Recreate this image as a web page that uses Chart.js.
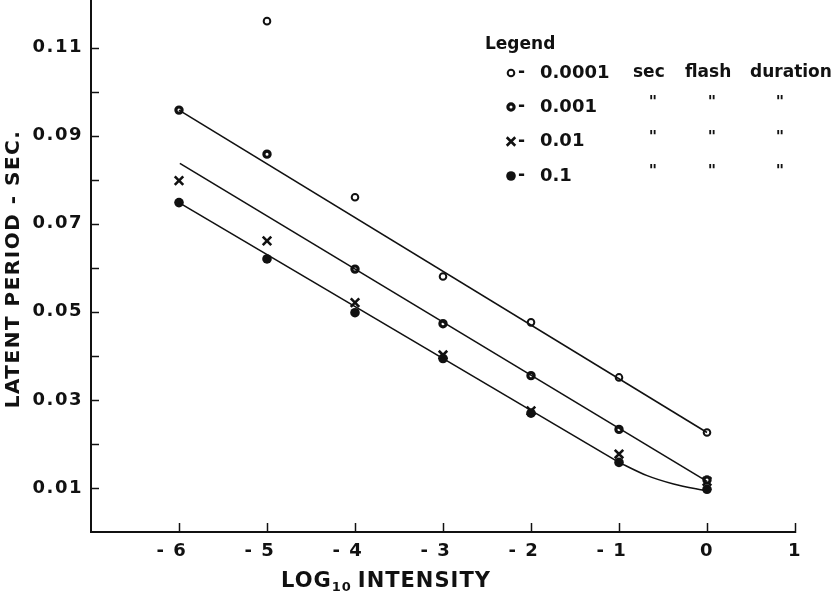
<!DOCTYPE html>
<html>
<head>
<meta charset="utf-8">
<script src="https://cdn.jsdelivr.net/npm/chart.js@4/dist/chart.umd.min.js"></script>
<style>
  html, body { margin: 0; padding: 0; background: #fff; }
  #wrap { width: 836px; height: 594px; }
</style>
</head>
<body>
<div id="wrap"><canvas id="latentChart" width="836" height="594"></canvas></div>
<script>
// log10 intensity
var intensity = [-6, -5, -4, -3, -2, -1, 0];

// latent period (sec) per flash duration
var flash00001 = [null, 0.116, 0.076, 0.058, 0.0476, 0.0351, 0.0226];
var flash0001 = [0.0958, 0.0858, 0.0597, 0.0473, 0.0355, 0.0233, 0.0118];
var flash001 = [0.0798, 0.0661, 0.0521, 0.0402, 0.0275, 0.0177, 0.0115];
var flash01 = [0.0748, 0.0620, 0.0498, 0.0394, 0.0270, 0.0158, 0.0097];

// the hand drawn lines
var upperFitX = [-6, 0];
var upperFitY = [0.0958, 0.0226];
var middleFitX = [-5.99, 0];
var middleFitY = [0.0837, 0.0115];
var lowerFitX = [-6, -1];
var lowerFitY = [0.0748, 0.0158];
var lowerBendX = [-1, -0.68, -0.38, 0];
var lowerBendY = [0.0158, 0.0128, 0.0109, 0.0093];

// tick labels
var xTickValues = [-6, -5, -4, -3, -2, -1, 0, 1];
var xTickLabels = ['- 6\u2007', '- 5\u2007', '- 4\u2007', '- 3\u2007', '- 2\u2007', '- 1\u2007', '0', '1'];
var yTickValues = [0.01, 0.03, 0.05, 0.07, 0.09, 0.11];
var yTickLabels = ['0.01', '0.03', '0.05', '0.07', '0.09', '0.11'];

var legendLabels = ['0.0001', '0.001', '0.01', '0.1'];

var ink = '#111';
var boldFont = '"DejaVu Sans", sans-serif';

function toPoints(xs, ys) {
    var out = [];
    for (var i = 0; i < xs.length; i++) {
        if (ys[i] !== null) out.push({ x: xs[i], y: ys[i] });
    }
    return out;
}

function findLabel(values, labels, v) {
    for (var i = 0; i < values.length; i++) {
        if (Math.abs(values[i] - v) < 1e-6) return labels[i];
    }
    return '';
}

function fitLine(label, xs, ys, tension) {
    return {
        label: label,
        data: toPoints(xs, ys),
        showLine: true,
        borderColor: ink,
        borderWidth: 1.6,
        pointRadius: 0,
        tension: tension || 0,
        cubicInterpolationMode: tension ? 'monotone' : 'default',
        fill: false
    };
}

// ticks that point into the plot, titles and the hand lettered legend
var paperPlugin = {
    id: 'paper',
    beforeDraw: function (chart) {
        // wide lettering like the original
        chart.ctx.letterSpacing = '1.5px';
    },
    afterDraw: function (chart) {
        var ctx = chart.ctx;
        var xs = chart.scales.x, ys = chart.scales.y;
        var area = chart.chartArea;
        ctx.save();
        ctx.letterSpacing = '0px';
        ctx.strokeStyle = ink;
        ctx.fillStyle = ink;
        ctx.lineWidth = 1.5;

        ys.ticks.forEach(function (t) {
            if (t.value < 0.005 || t.value > 0.115) return;
            var py = Math.round(ys.getPixelForValue(t.value)) + 0.5;
            ctx.beginPath();
            ctx.moveTo(area.left, py);
            ctx.lineTo(area.left + 8, py);
            ctx.stroke();
        });
        xs.ticks.forEach(function (t) {
            if (t.value < -6.5) return;
            var px = Math.round(xs.getPixelForValue(t.value)) + 0.5;
            ctx.beginPath();
            ctx.moveTo(px, area.bottom + 1);
            ctx.lineTo(px, area.bottom - 9);
            ctx.stroke();
        });

        // y title
        ctx.save();
        ctx.translate(14, 269);
        ctx.rotate(-Math.PI / 2);
        ctx.font = 'bold 20px ' + boldFont;
        ctx.letterSpacing = '1.5px';
        ctx.textAlign = 'center';
        ctx.textBaseline = 'middle';
        ctx.fillText('LATENT PERIOD - SEC.', 0, 0);
        ctx.restore();

        // x title with subscript
        ctx.textAlign = 'left';
        ctx.textBaseline = 'alphabetic';
        ctx.letterSpacing = '1px';
        ctx.font = 'bold 21px ' + boldFont;
        var tx = 281;
        ctx.fillText('LOG', tx, 587);
        tx += ctx.measureText('LOG').width;
        ctx.font = 'bold 13px ' + boldFont;
        ctx.fillText('10', tx, 591);
        tx += ctx.measureText('10').width + 6;
        ctx.font = 'bold 21px ' + boldFont;
        ctx.fillText('INTENSITY', tx, 587);
        ctx.letterSpacing = '0px';

        // legend
        ctx.font = 'bold 17px ' + boldFont;
        ctx.fillText('Legend', 485, 49);
        var rowY = [73, 107, 141.5, 176];
        var markerSets = chart.data.datasets.slice(4);
        for (var i = 0; i < legendLabels.length; i++) {
            var ds = markerSets[i];
            var opts = {
                pointStyle: ds.pointStyle,
                radius: ds.pointRadius,
                borderWidth: ds.pointBorderWidth,
                rotation: 0
            };
            ctx.save();
            ctx.fillStyle = ds.pointBackgroundColor;
            ctx.strokeStyle = ds.pointBorderColor;
            ctx.lineWidth = ds.pointBorderWidth;
            if (Chart.helpers && Chart.helpers.drawPoint) {
                Chart.helpers.drawPoint(ctx, opts, 511, rowY[i]);
            }
            ctx.restore();
            ctx.textBaseline = 'middle';
            ctx.font = 'bold 17px ' + boldFont;
            ctx.fillText('-', 518, rowY[i]);
            ctx.font = 'bold 18px ' + boldFont;
            ctx.fillText(legendLabels[i], 540, rowY[i]);
            if (i === 0) {
                ctx.font = 'bold 17px ' + boldFont;
                ctx.fillText('sec', 633, rowY[i]);
                ctx.fillText('flash', 685, rowY[i]);
                ctx.fillText('duration', 750, rowY[i]);
            } else {
                ctx.font = 'bold 16px ' + boldFont;
                ctx.textAlign = 'center';
                [653, 712, 780].forEach(function (dx) {
                    ctx.fillText('"', dx, rowY[i] - 4);
                });
                ctx.textAlign = 'left';
            }
        }
        ctx.restore();
    }
};

var ctxLatent = document.getElementById('latentChart').getContext('2d');
var latentChart = new Chart(ctxLatent, {
    type: 'scatter',
    data: {
        datasets: [
            fitLine('fit 0.0001', upperFitX, upperFitY),
            fitLine('fit 0.001', middleFitX, middleFitY),
            fitLine('fit 0.1', lowerFitX, lowerFitY),
            fitLine('fit 0.1 bend', lowerBendX, lowerBendY, 0.4),
            {
                label: legendLabels[0],
                data: toPoints(intensity, flash00001),
                pointStyle: 'circle',
                pointRadius: 3.3,
                pointBorderWidth: 2,
                pointBackgroundColor: '#fff',
                pointBorderColor: ink
            },
            {
                label: legendLabels[1],
                data: toPoints(intensity, flash0001),
                pointStyle: 'circle',
                pointRadius: 3.1,
                pointBorderWidth: 3.2,
                pointBackgroundColor: '#fff',
                pointBorderColor: ink
            },
            {
                label: legendLabels[2],
                data: toPoints(intensity, flash001),
                pointStyle: 'crossRot',
                pointRadius: 6,
                pointBorderWidth: 2.6,
                pointBackgroundColor: ink,
                pointBorderColor: ink
            },
            {
                label: legendLabels[3],
                data: toPoints(intensity, flash01),
                pointStyle: 'circle',
                pointRadius: 4.8,
                pointBorderWidth: 0,
                pointBackgroundColor: ink,
                pointBorderColor: ink
            }
        ]
    },
    options: {
        responsive: false,
        animation: false,
        layout: { autoPadding: false, padding: { top: 0, right: 41, bottom: 0, left: 0 } },
        plugins: {
            legend: { display: false },
            tooltip: { enabled: false }
        },
        scales: {
            x: {
                type: 'linear',
                min: -7,
                max: 1,
                grid: { display: false, drawTicks: false },
                border: { display: true, color: ink, width: 2 },
                ticks: {
                    stepSize: 1,
                    padding: 9,
                    color: ink,
                    maxRotation: 0,
                    autoSkip: false,
                    font: { family: boldFont, weight: 'bold', size: 18 },
                    callback: function (v) { return findLabel(xTickValues, xTickLabels, v); }
                },
                afterFit: function (s) {
                    s.height = 62;
                    s.paddingLeft = 0;
                    s.paddingRight = 0;
                }
            },
            y: {
                type: 'linear',
                min: 0,
                max: 0.1208,
                grid: { display: false, drawTicks: false },
                border: { display: true, color: ink, width: 2 },
                ticks: {
                    stepSize: 0.01,
                    padding: 8,
                    color: ink,
                    autoSkip: false,
                    font: { family: boldFont, weight: 'bold', size: 18 },
                    callback: function (v) { return findLabel(yTickValues, yTickLabels, v); }
                },
                afterFit: function (s) {
                    s.width = 91;
                    s.paddingTop = 0;
                    s.paddingBottom = 0;
                }
            }
        }
    },
    plugins: [paperPlugin]
});
</script>
</body>
</html>
